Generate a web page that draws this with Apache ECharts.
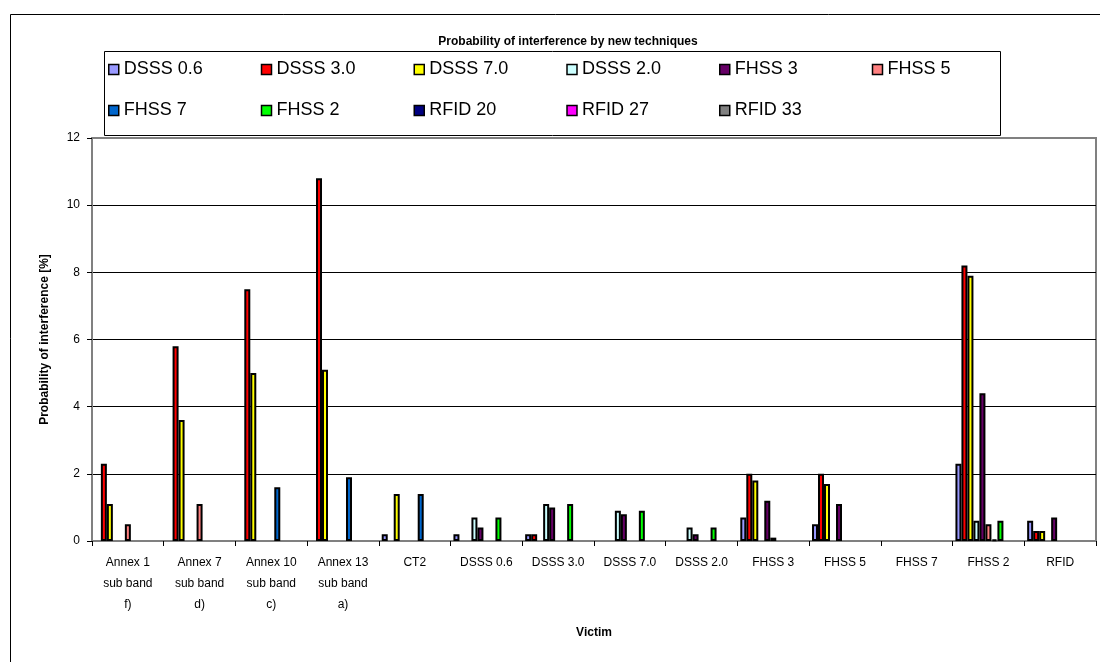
<!DOCTYPE html>
<html>
<head>
<meta charset="utf-8">
<title>Probability of interference by new techniques</title>
<script src="https://cdn.jsdelivr.net/npm/echarts@6/dist/echarts.min.js"></script>
<style>
  html, body { margin: 0; padding: 0; background: #fff; }
  #main { width: 1100px; height: 662px; }
</style>
</head>
<body>
<div id="main"></div>
<script>
// victims on the x axis
var victims = [
  "Annex 1\nsub band\nf)", "Annex 7\nsub band\nd)", "Annex 10\nsub band\nc)", "Annex 13\nsub band\na)",
  "CT2", "DSSS 0.6", "DSSS 3.0", "DSSS 7.0", "DSSS 2.0",
  "FHSS 3", "FHSS 5", "FHSS 7", "FHSS 2", "RFID"
];

// interferers (one series each), values in %
var dsss06  = [0,   0,   0,   0,    0.2, 0.2, 0.2, 0,   0,   0.7, 0.5, 0, 2.3,  0.6];
var dsss30  = [2.3, 5.8, 7.5, 10.8, 0,   0,   0.2, 0,   0,   2.0, 2.0, 0, 8.2,  0.3];
var dsss70  = [1.1, 3.6, 5.0, 5.1,  1.4, 0,   0,   0,   0,   1.8, 1.7, 0, 7.9,  0.3];
var dsss20  = [0,   0,   0,   0,    0,   0.7, 1.1, 0.9, 0.4, 0,   0,   0, 0.6,  0];
var fhss3   = [0,   0,   0,   0,    0,   0.4, 1.0, 0.8, 0.2, 1.2, 1.1, 0, 4.4,  0.7];
var fhss5   = [0.5, 1.1, 0,   0,    0,   0,   0,   0,   0,   0.1, 0,   0, 0.5,  0];
var fhss7   = [0,   0,   1.6, 1.9,  1.4, 0,   0,   0,   0,   0,   0,   0, 0.05, 0];
var fhss2   = [0,   0,   0,   0,    0,   0.7, 1.1, 0.9, 0.4, 0,   0,   0, 0.6,  0];
var rfid20  = [0,   0,   0,   0,    0,   0,   0,   0,   0,   0,   0,   0, 0,    0];
var rfid27  = [0,   0,   0,   0,    0,   0,   0,   0,   0,   0,   0,   0, 0,    0];
var rfid33  = [0,   0,   0,   0,    0,   0,   0,   0,   0,   0,   0,   0, 0,    0];

var seriesNames = ["DSSS 0.6", "DSSS 3.0", "DSSS 7.0", "DSSS 2.0", "FHSS 3", "FHSS 5",
                   "FHSS 7", "FHSS 2", "RFID 20", "RFID 27", "RFID 33"];
var seriesData = [dsss06, dsss30, dsss70, dsss20, fhss3, fhss5, fhss7, fhss2, rfid20, rfid27, rfid33];
var colors = ["#9999FF", "#FF0000", "#FFFF00", "#CCFFFF", "#660066", "#FF8080",
              "#0066CC", "#00FF00", "#000080", "#FF00FF", "#808080"];

var yTicks = [0, 2, 4, 6, 8, 10, 12];

var font = "'Liberation Sans', Arial, sans-serif";
var myChart = echarts.init(document.getElementById("main"), null, { renderer: "canvas" });

var series = seriesNames.map(function (name, i) {
  return {
    name: name,
    type: "bar",
    barGap: "0%",
    barCategoryGap: "8%",
    // empty cells are not drawn
    data: seriesData[i].map(function (v) { return v === 0 ? "-" : v; }),
    itemStyle: { color: colors[i], borderColor: "#000", borderWidth: 2 }
  };
});

var option = {
  animation: false,
  backgroundColor: "#fff",
  color: colors,
  title: {
    text: "Probability of interference by new techniques",
    left: 563,
    top: 31,
    textAlign: "center",
    textStyle: { fontFamily: font, fontSize: 12, fontWeight: "bold", color: "#000" }
  },
  graphic: [
    // outer chart frame
    { type: "rect", left: 8, top: 12, shape: { width: 1200, height: 700 },
      style: { fill: "none", stroke: "#000", lineWidth: 1 }, silent: true, z: -1 },
    // legend frame
    { type: "rect", left: 104, top: 51, shape: { width: 896, height: 84 },
      style: { fill: "#fff", stroke: "#000", lineWidth: 1 }, silent: true, z: -1 }
  ],
  legend: {
    left: 108,
    top: 59,
    width: 900,
    padding: 0,
    itemGap: 20,
    itemWidth: 10,
    itemHeight: 10,
    icon: "rect",
    data: seriesNames,
    itemStyle: { borderColor: "#000", borderWidth: 1.5 },
    textStyle: { fontFamily: font, fontSize: 18, color: "#000", width: 117, lineHeight: 21 }
  },
  grid: {
    left: 92,
    top: 138,
    right: 4,
    bottom: 121,
    show: true,
    borderColor: "#808080",
    borderWidth: 2
  },
  xAxis: {
    type: "category",
    data: victims,
    name: "Victim",
    nameLocation: "middle",
    nameGap: 86,
    nameTextStyle: { fontFamily: font, fontSize: 12, fontWeight: "bold", color: "#000" },
    axisLine: { lineStyle: { color: "#808080", width: 2 } },
    axisTick: { show: true, length: 5, lineStyle: { color: "#000" } },
    axisLabel: { interval: 0, fontFamily: font, fontSize: 12, color: "#000", lineHeight: 21, margin: 11 }
  },
  yAxis: {
    type: "value",
    min: yTicks[0],
    max: yTicks[yTicks.length - 1],
    interval: 2,
    name: "Probability of interference [%]",
    nameLocation: "middle",
    nameGap: 41,
    nameTextStyle: { fontFamily: font, fontSize: 12, fontWeight: "bold", color: "#000" },
    axisLine: { show: true, lineStyle: { color: "#808080", width: 2 } },
    axisTick: { show: true, length: 5, lineStyle: { color: "#000" } },
    axisLabel: { fontFamily: font, fontSize: 12, color: "#000", margin: 12 },
    splitLine: { show: true, showMinLine: false, showMaxLine: false, lineStyle: { color: "#000", width: 1 } }
  },
  series: series
};

myChart.setOption(option);
</script>
</body>
</html>
